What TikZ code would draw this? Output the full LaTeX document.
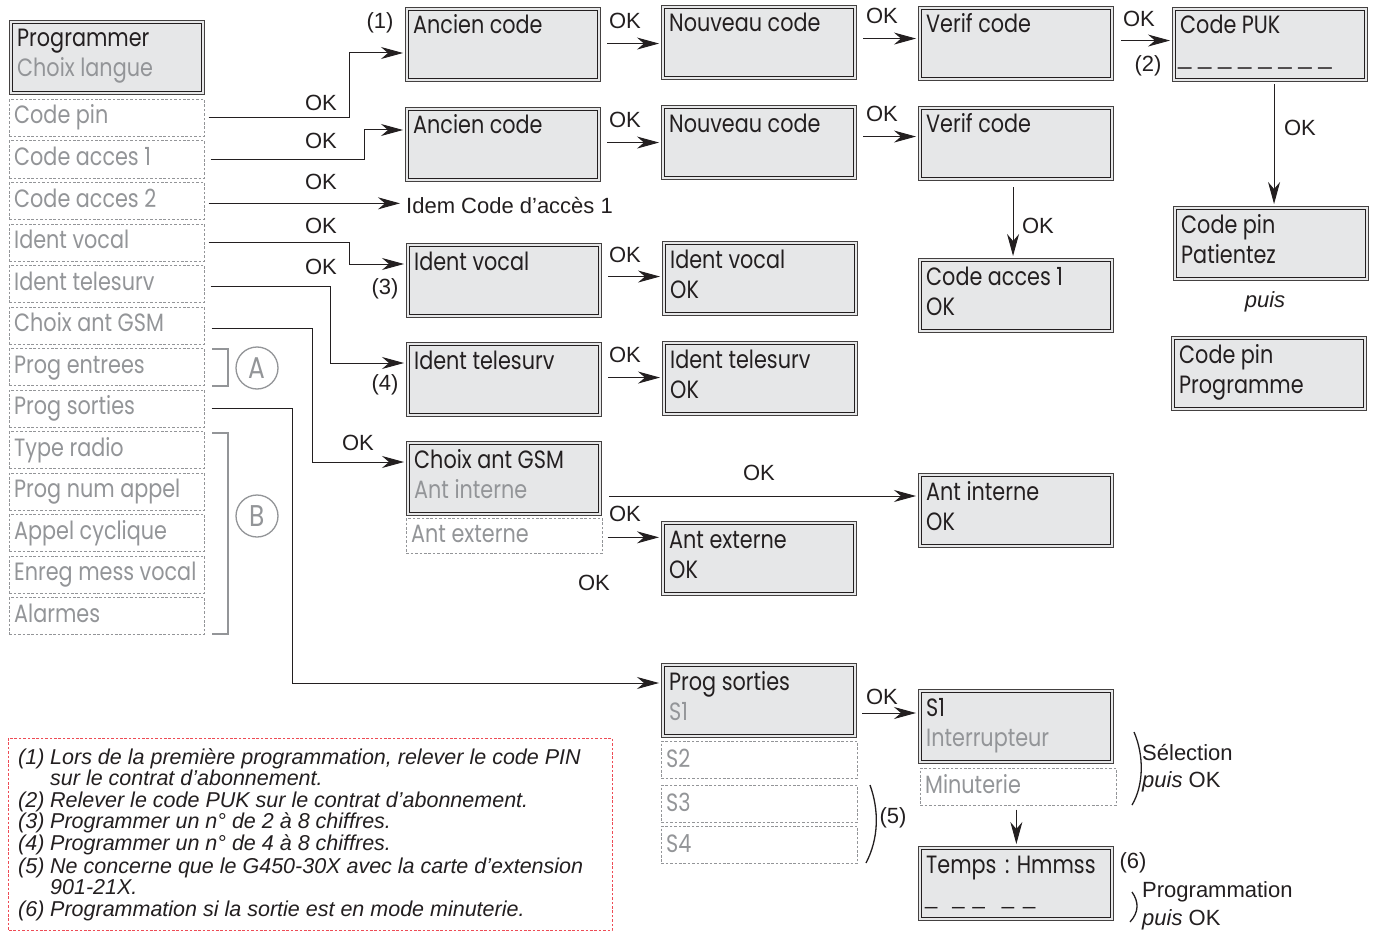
\documentclass[tikz,border=0pt]{standalone}
\usepackage{fontspec}
\setmainfont{Liberation Sans}
\newfontfamily\fut[FakeStretch=0.83]{Poppins}
\usetikzlibrary{arrows.meta,calc}
\definecolor{boxgray}{HTML}{E6E7E8}
\definecolor{txtgray}{HTML}{939598}
\definecolor{edge}{HTML}{231F20}
\definecolor{fnred}{HTML}{EE4B55}
\tikzset{
  dbox/.style={draw=edge!85, line width=1.1pt, fill=boxgray,
    minimum width=195pt, minimum height=74pt, anchor=north west, inner sep=0pt},
  inbox/.style={draw=edge, line width=0.8pt},
  lbox/.style={draw=txtgray, line width=0.7pt, dash pattern=on 2.6pt off 1.8pt,
    minimum width=195pt, minimum height=37pt, anchor=north west, inner sep=0pt},
  btxt/.style={font=\fut\fontsize{25}{30}\selectfont, text=edge, anchor=base west, inner sep=0pt},
  gtxt/.style={btxt, text=txtgray},
  lbl/.style={font=\fontsize{22}{26}\selectfont, text=edge, inner sep=0pt},
  lbll/.style={lbl, anchor=west},
  fn/.style={font=\itshape\fontsize{21.5}{22}\selectfont, text=edge, inner sep=0pt, anchor=base west},
  arr/.style={draw=edge, line width=1pt, -{Stealth[length=22pt,width=12pt,inset=7pt]}, shorten >=2pt},
  brk/.style={draw=txtgray, line width=1.6pt},
  circ/.style={circle, draw=txtgray, line width=1.3pt, minimum size=42pt, inner sep=0pt,
    text=txtgray, font=\fut\fontsize{30}{30}\selectfont},
  paren/.style={draw=edge, line width=1.3pt},
}
\newcommand\dframe[1]{\draw[inbox] ([xshift=3.5pt,yshift=-3.5pt]#1.north west) rectangle ([xshift=-3.5pt,yshift=3.5pt]#1.south east);}
\newcommand\lrow[3]{\node[lbox] (#1) at (9,#2) {}; \node[gtxt] (#1t) at ([xshift=5pt,yshift=-25pt]#1.north west) {#3};}
\newcommand\dbxone[4]{\node[dbox] (#1) at (#2,#3) {}; \dframe{#1}
  \node[btxt] (#1a) at ([xshift=8pt,yshift=-27pt]#1.north west) {#4};}
\newcommand\dbxtwo[6]{\node[dbox] (#1) at (#2,#3) {}; \dframe{#1}
  \node[btxt] (#1a) at ([xshift=8pt,yshift=-27pt]#1.north west) {#4};
  \node[btxt, text=#6] (#1b) at ([xshift=8pt,yshift=-57pt]#1.north west) {#5};}
\begin{document}
\begin{tikzpicture}[x=1pt,y=-1pt]
\useasboundingbox (0,0) rectangle (1376,931);
\fill[white] (0,0) rectangle (1376,931);

% left menu
\dbxtwo{prog}{9}{20}{Programmer}{Choix langue}{txtgray}
\lrow{cpin}{99}{Code pin}
\lrow{cacc1}{140.5}{Code acces 1}
\lrow{cacc2}{182}{Code acces 2}
\lrow{ivoc}{223.5}{Ident vocal}
\lrow{itel}{265}{Ident telesurv}
\lrow{cgsm}{306.5}{Choix ant GSM}
\lrow{pent}{348}{Prog entrees}
\lrow{psor}{389.5}{Prog sorties}
\lrow{trad}{431}{Type radio}
\lrow{pnum}{472.5}{Prog num appel}
\lrow{acyc}{514}{Appel cyclique}
\lrow{emv}{555.5}{Enreg mess vocal}
\lrow{alar}{597}{Alarmes}

% brackets A and B
\draw[brk] (212,349) -- (228,349) -- (228,386) -- (212,386);
\draw[brk] (212,433) -- (228,433) -- (228,634) -- (212,634);
\node[circ] (cA) at (257,368) {A};
\node[circ] (cB) at (257,516) {B};

% right boxes
\dbxone{anc1}{405}{7}{Ancien code}
\dbxone{nouv1}{661}{5}{Nouveau code}
\dbxone{ver1}{918}{6}{Verif code}
\dbxone{puk}{1172}{7}{Code PUK}
\node[font=\fontsize{24}{24}\selectfont, text=edge, anchor=base west, inner sep=0pt] (pukd) at (1178,65) {\_ \_ \_ \_ \_ \_ \_ \_};
\dbxone{anc2}{405}{107}{Ancien code}
\dbxone{nouv2}{661}{105}{Nouveau code}
\dbxone{ver2}{918}{106}{Verif code}
\dbxtwo{ca1ok}{918}{258}{Code acces 1}{OK}{edge}
\dbxtwo{pinpat}{1173}{206}{Code pin}{Patientez}{edge}
\dbxtwo{pinprog}{1171}{336}{Code pin}{Programme}{edge}
\dbxone{idv}{406}{243}{Ident vocal}
\dbxtwo{idvok}{662}{241}{Ident vocal}{OK}{edge}
\dbxone{idt}{406}{342}{Ident telesurv}
\dbxtwo{idtok}{662}{341}{Ident telesurv}{OK}{edge}
\dbxtwo{gsm}{406}{441}{Choix ant GSM}{Ant interne}{txtgray}
\node[lbox, minimum height=35pt, minimum width=196pt] (antext) at (406,518) {};
\node[gtxt] (antextt) at ([xshift=5pt,yshift=-24pt]antext.north west) {Ant externe};
\dbxtwo{antextok}{661}{521}{Ant externe}{OK}{edge}
\dbxtwo{antint}{918}{473}{Ant interne}{OK}{edge}
\dbxtwo{ps}{661}{663}{Prog sorties}{S1}{txtgray}
\node[lbox, minimum width=196pt] (s2) at (661,741) {};
\node[gtxt] (s2t) at ([xshift=5pt,yshift=-26pt]s2.north west) {S2};
\node[lbox, minimum width=196pt] (s3) at (661,785) {};
\node[gtxt] (s3t) at ([xshift=5pt,yshift=-26pt]s3.north west) {S3};
\node[lbox, minimum width=196pt] (s4) at (661,826) {};
\node[gtxt] (s4t) at ([xshift=5pt,yshift=-26pt]s4.north west) {S4};
\dbxtwo{s1}{918}{689}{S1}{Interrupteur}{txtgray}
\node[lbox, minimum width=196pt] (minut) at (920,768) {};
\node[gtxt] (minutt) at ([xshift=5pt,yshift=-25pt]minut.north west) {Minuterie};
\dbxone{temps}{918}{846}{Temps\hspace{3pt} : Hmmss}
\node[font=\fontsize{22}{22}\selectfont, text=edge, anchor=base west, inner sep=0pt] (tempsd) at (925,904)
  {\_\hspace{15pt}\_\hspace{8pt}\_\hspace{17pt}\_\hspace{9pt}\_};

% connectors from the left menu
\coordinate (k1) at (349,53);
\draw[arr] ([xshift=4pt]cpin.east) -| (k1) -- (k1 -| anc1.west);
\coordinate (k2) at (364,130);
\draw[arr] ([xshift=6pt]cacc1.east) -| (k2) -- (k2 -| anc2.west);
\node[lbll] (idem) at (406,206) {Idem Code d’accès 1};
\draw[arr, shorten >=6pt] ([xshift=4pt,yshift=-2.5pt]cacc2.east) -- ([yshift=-2.5pt]cacc2.east -| idem.west);
\coordinate (k4) at (349,264);
\draw[arr] ([xshift=4pt]ivoc.east) -| (k4) -- (k4 -| idv.west);
\coordinate (k5) at (330,363);
\draw[arr] ([xshift=6pt,yshift=-2.5pt]itel.east) -| (k5) -- (k5 -| idt.west);
\coordinate (k6) at (312,462);
\draw[arr] ([xshift=7pt,yshift=-3pt]cgsm.east) -| (k6) -- (k6 -| gsm.west);
\coordinate (k7) at (292,683);
\draw[arr] ([xshift=7pt]psor.east) -| (k7) -- (k7 -| ps.west);

% connectors between boxes
\draw[arr] ([xshift=6pt,yshift=1pt]anc1.east) -- ([yshift=1pt]anc1.east -| nouv1.west);
\draw[arr] ([xshift=6pt,yshift=2pt]anc2.east) -- ([yshift=2pt]anc2.east -| nouv2.west);
\draw[arr] ([xshift=6pt,yshift=4pt]nouv1.east) -- ([yshift=4pt]nouv1.east -| ver1.west);
\draw[arr] ([xshift=6pt,yshift=6pt]nouv2.east) -- ([yshift=6pt]nouv2.east -| ver2.west);
\draw[arr] ([xshift=7pt,yshift=3pt]ver1.east) -- ([yshift=3pt]ver1.east -| puk.west);
\draw[arr] ([xshift=-3pt,yshift=-6pt]ver2.south) -- ([xshift=-3pt]ver2.south |- ca1ok.north);
\draw[arr] ([xshift=4pt,yshift=-2pt]puk.south) -- ([xshift=4pt]puk.south |- pinpat.north);
\draw[arr] ([xshift=6pt,yshift=4pt]idv.east) -- ([yshift=4pt]idv.east -| idvok.west);
\draw[arr] ([xshift=6pt,yshift=2pt]idt.east) -- ([yshift=2pt]idt.east -| idtok.west);
\coordinate (gi) at (609,496);
\draw[arr] (gi) -- (gi -| antint.west);
\draw[arr] ([xshift=5pt,yshift=-1.5pt]antext.east) -- ([yshift=-1.5pt]antext.east -| antextok.west);
\coordinate (pi) at (862,713);
\draw[arr] (pi) -- (pi -| s1.west);
\draw[arr] ([xshift=-2pt,yshift=-4pt]minut.south) -- ([xshift=-2pt]minut.south |- temps.north);

% labels
\node[lbl] (ok1) at (321,103) {OK};
\node[lbl] (ok2) at (321,141) {OK};
\node[lbl] (ok3) at (321,182) {OK};
\node[lbl] (ok4) at (321,226) {OK};
\node[lbl] (ok5) at (321,267) {OK};
\node[lbl] (ok6) at (358,443) {OK};
\node[lbl] (ok7) at (625,21) {OK};
\node[lbl] (ok8) at (625,120) {OK};
\node[lbl] (ok9) at (625,255) {OK};
\node[lbl] (ok10) at (625,355) {OK};
\node[lbl] (ok11) at (625,514) {OK};
\node[lbl] (ok12) at (594,583) {OK};
\node[lbl] (ok13) at (882,16) {OK};
\node[lbl] (ok14) at (882,114) {OK};
\node[lbl] (ok15) at (1139,19) {OK};
\node[lbl] (ok16) at (1300,128) {OK};
\node[lbl] (ok17) at (1038,226) {OK};
\node[lbl] (ok18) at (759,473) {OK};
\node[lbl] (ok19) at (882,697) {OK};
\node[lbl] (n1) at (380,23) {(1)};
\node[lbl] (n2) at (1148,66) {(2)};
\node[lbl] (n3) at (385,289) {(3)};
\node[lbl] (n4) at (385,385) {(4)};
\node[lbl] (n5) at (893,818) {(5)};
\node[lbl] (n6) at (1133,863) {(6)};
\node[lbl, font=\itshape\fontsize{22}{26}\selectfont] (puis) at (1265,302) {puis};

% parentheses
\draw[paren] (870,785) .. controls (879,810) and (879,838) .. (866,863);
\draw[paren] (1134,732) .. controls (1144,755) and (1144,785) .. (1132,805);
\draw[paren] (1132,892) .. controls (1139,902) and (1139,912) .. (1130,922);
\node[lbll] (sel) at (1142,753) {Sélection};
\node[lbll] (selok) at (1142,782) {\textit{puis} OK};
\node[lbll] (prg) at (1142,892) {Programmation};
\node[lbll] (prgok) at (1142,920) {\textit{puis} OK};

% footnotes
\draw[fnred, line width=0.8pt, dash pattern=on 2.6pt off 1.8pt] (8,738) rectangle (612,930.5);
\node[fn] (fn1) at (18,764) {\makebox[32pt][l]{(1)}Lors de la première programmation, relever le code PIN};
\node[fn] (fn2) at (18,785) {\hspace*{32pt}sur le contrat d’abonnement.};
\node[fn] (fn3) at (18,807) {\makebox[32pt][l]{(2)}Relever le code PUK sur le contrat d’abonnement.};
\node[fn] (fn4) at (18,828) {\makebox[32pt][l]{(3)}Programmer un n° de 2 à 8 chiffres.};
\node[fn] (fn5) at (18,850) {\makebox[32pt][l]{(4)}Programmer un n° de 4 à 8 chiffres.};
\node[fn] (fn6) at (18,873) {\makebox[32pt][l]{(5)}Ne concerne que le G450-30X avec la carte d’extension};
\node[fn] (fn7) at (18,894) {\hspace*{32pt}901-21X.};
\node[fn] (fn8) at (18,916) {\makebox[32pt][l]{(6)}Programmation si la sortie est en mode minuterie.};
\end{tikzpicture}
\end{document}
